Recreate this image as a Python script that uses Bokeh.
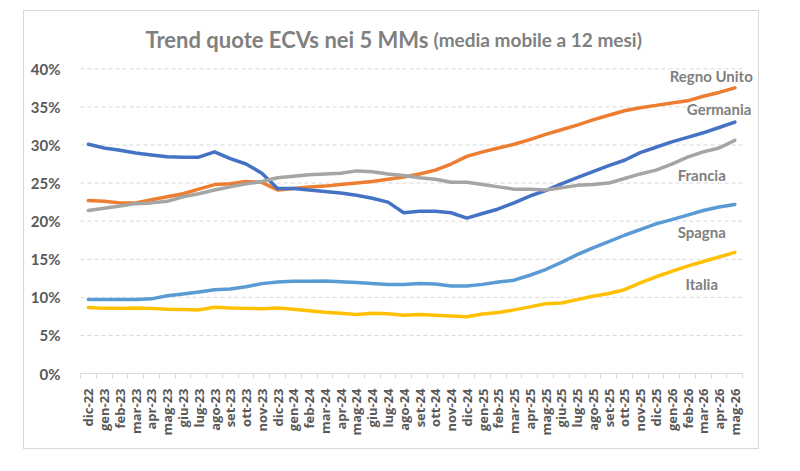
import math
from bokeh.plotting import figure
from bokeh.models import Range1d, FixedTicker, Label, ColumnDataSource
from bokeh.embed import file_html
from bokeh.resources import INLINE

# Month labels (12-month moving average, dic-22 .. mag-26)
months = [
    "dic-22", "gen-23", "feb-23", "mar-23", "apr-23", "mag-23", "giu-23", "lug-23",
    "ago-23", "set-23", "ott-23", "nov-23", "dic-23", "gen-24", "feb-24", "mar-24",
    "apr-24", "mag-24", "giu-24", "lug-24", "ago-24", "set-24", "ott-24", "nov-24",
    "dic-24", "gen-25", "feb-25", "mar-25", "apr-25", "mag-25", "giu-25", "lug-25",
    "ago-25", "set-25", "ott-25", "nov-25", "dic-25", "gen-26", "feb-26", "mar-26",
    "apr-26", "mag-26",
]

# ECV share (%) per market
regno_unito = [22.7, 22.6, 22.4, 22.4, 22.8, 23.2, 23.6, 24.2, 24.8, 24.9, 25.2, 25.1,
               24.1, 24.3, 24.5, 24.6, 24.8, 25.0, 25.2, 25.5, 25.8, 26.2, 26.7, 27.5,
               28.5, 29.1, 29.6, 30.1, 30.7, 31.4, 32.0, 32.6, 33.3, 33.9, 34.5, 34.9,
               35.2, 35.5, 35.8, 36.4, 36.9, 37.5]
germania = [30.1, 29.6, 29.3, 28.95, 28.7, 28.45, 28.4, 28.4, 29.1, 28.2, 27.5, 26.3,
            24.3, 24.3, 24.1, 23.9, 23.7, 23.4, 23.0, 22.5, 21.1, 21.3, 21.3, 21.1,
            20.4, 21.0, 21.6, 22.4, 23.3, 24.0, 24.9, 25.7, 26.5, 27.3, 28.0, 29.0,
            29.7, 30.4, 31.0, 31.6, 32.3, 33.0]
francia = [21.4, 21.7, 22.0, 22.3, 22.4, 22.6, 23.2, 23.6, 24.1, 24.5, 24.9, 25.2,
           25.7, 25.9, 26.1, 26.2, 26.3, 26.6, 26.5, 26.2, 26.0, 25.7, 25.5, 25.1,
           25.1, 24.8, 24.5, 24.2, 24.2, 24.1, 24.4, 24.7, 24.8, 25.0, 25.6, 26.2,
           26.7, 27.5, 28.4, 29.1, 29.6, 30.6]
spagna = [9.7, 9.7, 9.7, 9.7, 9.8, 10.2, 10.45, 10.7, 11.0, 11.1, 11.4, 11.8,
          12.0, 12.1, 12.1, 12.15, 12.05, 11.95, 11.8, 11.7, 11.7, 11.8, 11.75, 11.5,
          11.5, 11.7, 12.0, 12.25, 12.9, 13.65, 14.6, 15.6, 16.5, 17.3, 18.15, 18.9,
          19.65, 20.2, 20.8, 21.4, 21.85, 22.2]
italia = [8.65, 8.55, 8.55, 8.6, 8.55, 8.45, 8.4, 8.35, 8.7, 8.6, 8.55, 8.5,
          8.6, 8.45, 8.25, 8.05, 7.9, 7.75, 7.9, 7.85, 7.65, 7.75, 7.65, 7.55,
          7.45, 7.8, 8.0, 8.35, 8.75, 9.15, 9.25, 9.7, 10.15, 10.5, 11.0, 11.9,
          12.7, 13.4, 14.1, 14.7, 15.3, 15.9]

y_ticks = [0, 5, 10, 15, 20, 25, 30, 35, 40]

series = [
    ("Regno Unito", regno_unito, "#ED7D31"),
    ("Germania", germania, "#4472C4"),
    ("Francia", francia, "#A5A5A5"),
    ("Spagna", spagna, "#5B9BD5"),
    ("Italia", italia, "#FFC000"),
]

# End-of-line label anchors (category index, percent)
label_pos = {
    "Regno Unito": (39.5, 39.1),
    "Germania": (40.0, 34.75),
    "Francia": (38.9, 26.1),
    "Spagna": (38.9, 18.6),
    "Italia": (38.9, 11.8),
}

n = len(months)
xs = list(range(n))
x_lo, x_hi = -0.5, n - 0.5

# The frame reaches past the data on the right and above 40% so that
# the end labels and the title have room; grid and axis stay bounded.
p = figure(
    width=736, height=439,
    x_range=Range1d(x_lo, x_hi + 1.0), y_range=Range1d(0, 47),
    output_backend="svg", toolbar_location=None,
    min_border_left=56, min_border_right=2, min_border_top=4, min_border_bottom=77,
    background_fill_color="white", border_fill_color="white",
)
p.margin = (10, 41, 22, 23)
p.styles = {"border": "1px solid #d9d9d9"}
p.outline_line_color = None
p.grid.visible = False

# Dashed horizontal gridlines across the category span only
p.segment(x0=[x_lo] * (len(y_ticks) - 1), x1=[x_hi] * (len(y_ticks) - 1),
          y0=y_ticks[1:], y1=y_ticks[1:], line_color="#d9d9d9",
          line_dash="4 3", line_width=1)

# Y axis: percent labels only
p.yaxis.ticker = FixedTicker(ticks=y_ticks)
p.yaxis.major_label_overrides = {t: f"{t}%" for t in y_ticks}
p.yaxis.axis_line_color = None
p.yaxis.major_tick_line_color = None
p.yaxis.minor_tick_line_color = None
p.yaxis.major_label_standoff = 14
p.yaxis.major_label_text_font = "Lato"
p.yaxis.major_label_text_font_style = "bold"
p.yaxis.major_label_text_font_size = "15px"
p.yaxis.major_label_text_color = "#595959"

# X axis: month labels at centres, tick marks on category boundaries
p.xaxis.bounds = (x_lo, x_hi)
p.xaxis.ticker = FixedTicker(ticks=xs, minor_ticks=[i - 0.5 for i in range(n + 1)])
p.xaxis.major_label_overrides = {i: m for i, m in enumerate(months)}
p.xaxis.major_label_orientation = math.pi / 2
p.xaxis.axis_line_color = "#d9d9d9"
p.xaxis.major_tick_line_color = None
p.xaxis.minor_tick_line_color = "#d9d9d9"
p.xaxis.minor_tick_in = 0
p.xaxis.minor_tick_out = 5
p.xaxis.major_label_standoff = 9
p.xaxis.major_label_text_font = "Open Sans"
p.xaxis.major_label_text_font_style = "bold"
p.xaxis.major_label_text_font_size = "13px"
p.xaxis.major_label_text_color = "#595959"

for name, vals, color in series:
    src = ColumnDataSource(dict(x=xs, y=vals))
    p.line("x", "y", source=src, line_color=color, line_width=3.5,
           line_cap="round", line_join="round")
    lx, ly = label_pos[name]
    p.add_layout(Label(x=lx, y=ly, text=name, text_align="center",
                       text_baseline="middle", text_font="Lato",
                       text_font_style="bold", text_font_size="15px",
                       text_color="#7f7f7f"))

# Title split in two sizes
title_x, title_y = 21.7, 43.9
p.add_layout(Label(x=title_x, y=title_y, x_offset=-2, text="Trend quote ECVs nei 5 MMs",
                   text_align="right", text_baseline="alphabetic", text_font="Lato",
                   text_font_style="bold", text_font_size="22px", text_color="#808080"))
p.add_layout(Label(x=title_x, y=title_y, x_offset=3, text="(media mobile a 12 mesi)",
                   text_align="left", text_baseline="alphabetic", text_font="Lato",
                   text_font_style="bold", text_font_size="19px", text_color="#808080"))

open("out.html", "w").write(file_html(p, INLINE))
